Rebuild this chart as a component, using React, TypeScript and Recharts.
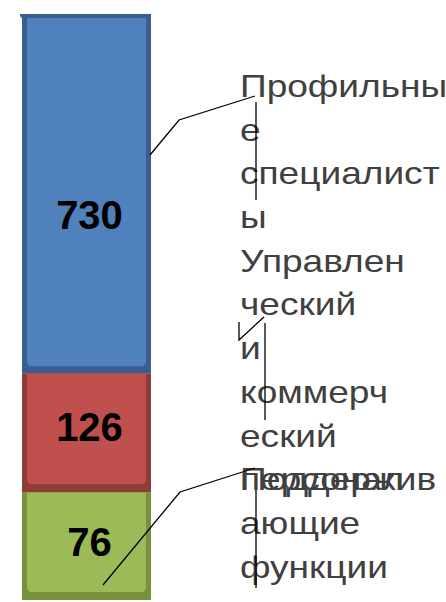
import React from 'react';
import { BarChart, Bar, XAxis, YAxis, LabelList } from 'recharts';

// ---- data ----
const categories = ['Профильные специалисты', 'Управленческий и коммерческий персонал', 'Поддерживающие функции'];
const valueLabels = [730, 126, 76];
// visual share (%) of the cylinder height taken by each segment, as drawn in the picture
const segmentShares = [61.3, 20.3, 18.4];
// category labels as wrapped in the picture
const categoryLines = [
  ['Профильны', 'е', 'специалист', 'ы'],
  ['Управлен', 'ческий', 'и', 'коммерч', 'еский', 'персонал'],
  ['Поддержив', 'ающие', 'функции'],
];
const seriesKeys = ['s0', 's1', 's2'];

const chartData = [
  {
    name: 'all',
    s0: segmentShares[0],
    s1: segmentShares[1],
    s2: segmentShares[2],
  },
];

// ---- styles / layout ----
const COLORS = [
  { main: '#4F81BD', dark: '#3A5F8E' },
  { main: '#C0504D', dark: '#8E3B39' },
  { main: '#9BBB59', dark: '#76923D' },
];
const VALUE_DY = [21, -6, -4];
const TEXT_X = 240;
const TEXT_SCALE_X = 1.185;
const LINE_H = 43.7;
const BLOCK_BASELINE = [97, 271.8, 490.3];
const LEADERS = [
  { poly: [[150, 155], [179, 120], [255, 96]], tick: [[256, 102], [256, 200]] },
  { poly: [[239, 322], [239, 340], [264, 317]], tick: [[265, 323], [265, 420]] },
  { poly: [[103, 585], [180, 492], [255, 468]], tick: [[256, 473], [256, 588]] },
];

const makeShape = (idx: number) => (props: any) => {
  const { x, y, width, height } = props;
  const c = COLORS[idx];
  const side = 5;
  const bottom = idx === 0 ? 7 : 8;
  const top = idx === 0 ? 4 : 0;
  const ix = x + side;
  const iw = width - side * 2;
  const iy = y + top;
  const ih = height - top - bottom;
  const r = 5;
  const innerPath = `M${ix},${iy} L${ix + iw},${iy} L${ix + iw},${iy + ih - r} Q${ix + iw},${iy + ih} ${ix + iw - r},${iy + ih} L${ix + r},${iy + ih} Q${ix},${iy + ih} ${ix},${iy + ih - r} Z`;
  return (
    <g>
      <rect x={x} y={y} width={width} height={height} fill={c.dark} />
      <path d={innerPath} fill={c.main} />
      {idx === 0 && <rect x={x - 2} y={y - 3} width={width + 1} height={7} rx={3} fill={c.dark} />}
    </g>
  );
};

const makeLabel = (idx: number) => (props: any) => {
  const { x, y, width, height } = props;
  const lead = LEADERS[idx];
  return (
    <g>
      <text
        x={x + width / 2 + 3}
        y={y + height / 2 + VALUE_DY[idx]}
        textAnchor="middle"
        dominantBaseline="central"
        fontFamily="'Liberation Sans', Arial, sans-serif"
        fontWeight="bold"
        fontSize={40}
        fill="#000"
      >
        {valueLabels[idx]}
      </text>
      <g transform={`translate(${TEXT_X},0) scale(${TEXT_SCALE_X},1)`}>
        {categoryLines[idx].map((ln, i) => (
          <text
            key={i}
            x={0}
            y={BLOCK_BASELINE[idx] + i * LINE_H}
            fontFamily="'Liberation Sans', Arial, sans-serif"
            fontSize={31.3}
            fill="#404040"
          >
            {ln}
          </text>
        ))}
      </g>
      <polyline
        points={lead.poly.map((p) => p.join(',')).join(' ')}
        fill="none"
        stroke="#000"
        strokeWidth={1.3}
      />
      <line x1={lead.tick[0][0]} y1={lead.tick[0][1]} x2={lead.tick[1][0]} y2={lead.tick[1][1]} stroke="#000" strokeWidth={1.3} />
    </g>
  );
};

export default function App() {
  // stack bottom -> top: last category at the bottom
  const order = [2, 1, 0];
  return (
    <div style={{ position: 'fixed', left: 0, top: 0, width: 446, height: 602, overflow: 'hidden', background: '#fff' }}>
      <BarChart
        width={446}
        height={602}
        data={chartData}
        margin={{ top: 14, right: 295, bottom: 2, left: 22 }}
        barCategoryGap={0}
        barGap={0}
      >
        <XAxis dataKey="name" hide />
        <YAxis type="number" domain={[0, 100]} hide allowDataOverflow />
        {order.map((idx) => (
          <Bar
            key={seriesKeys[idx]}
            dataKey={seriesKeys[idx]}
            name={categories[idx]}
            stackId="a"
            fill={COLORS[idx].main}
            shape={makeShape(idx)}
            isAnimationActive={false}
          >
            <LabelList dataKey={seriesKeys[idx]} content={makeLabel(idx)} />
          </Bar>
        ))}
      </BarChart>
    </div>
  );
}
